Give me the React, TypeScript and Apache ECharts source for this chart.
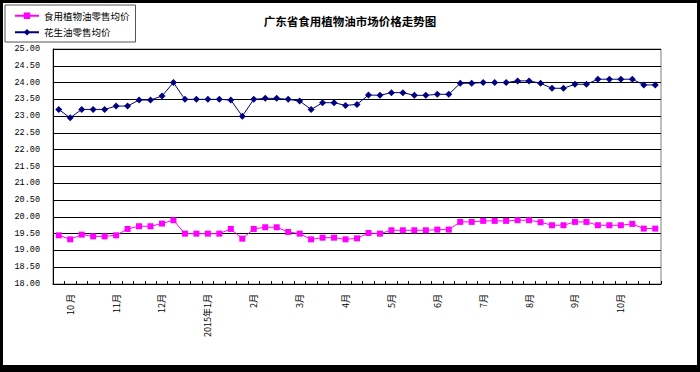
import React, { useEffect, useRef } from "react";
import * as echarts from "echarts";

const titleText = "广东省食用植物油市场价格走势图";
const seriesNames = ["食用植物油零售均价", "花生油零售均价"];
const monthLabels = ["10 月", "11月", "12月", "2015年1月", "2月", "3月", "4月", "5月", "6月", "7月", "8月", "9月", "10月"];

const edibleOil = [
  19.45, 19.33, 19.47, 19.42, 19.42, 19.45, 19.64, 19.72, 19.72, 19.8,
  19.9, 19.5, 19.5, 19.5, 19.5, 19.64, 19.35, 19.64, 19.69, 19.69,
  19.55, 19.5, 19.33, 19.38, 19.38, 19.33, 19.36, 19.52, 19.5, 19.6,
  19.6, 19.6, 19.6, 19.62, 19.62, 19.85, 19.85, 19.88, 19.88, 19.88,
  19.9, 19.9, 19.84, 19.75, 19.75, 19.85, 19.85, 19.75, 19.75, 19.75,
  19.79, 19.65, 19.65,
];

const peanutOil = [
  23.2, 22.95, 23.2, 23.2, 23.2, 23.3, 23.3, 23.48, 23.48, 23.6,
  24.0, 23.5, 23.5, 23.5, 23.5, 23.48, 23.0, 23.5, 23.53, 23.53,
  23.5, 23.45, 23.2, 23.4, 23.4, 23.32, 23.35, 23.63, 23.62, 23.7,
  23.7, 23.62, 23.62, 23.65, 23.65, 23.98, 23.98, 24.0, 24.0, 24.0,
  24.05, 24.05, 23.98, 23.83, 23.83, 23.95, 23.95, 24.1, 24.1, 24.1,
  24.1, 23.93, 23.93,
];

const categories = edibleOil.map((_, i) => "P" + (i + 1));

const cjk = "'Noto Sans CJK SC', 'Liberation Sans', sans-serif";

export default function App() {
  const ref = useRef<HTMLDivElement>(null);
  useEffect(() => {
    if (!ref.current) return;
    const chart = echarts.init(ref.current, undefined, { renderer: "svg" });
    chart.setOption({
      animation: false,
      backgroundColor: "#ffffff",
      title: {
        text: titleText,
        left: "center",
        top: 10,
        textStyle: { fontSize: 11.5, fontWeight: "bold", color: "#000", fontFamily: cjk },
      },
      legend: {
        orient: "vertical",
        left: 5,
        top: 5,
        padding: [6, 6, 5, 9],
        itemWidth: 24,
        itemHeight: 8,
        itemGap: 7,
        itemTextGap: 5,
        borderColor: "#555",
        borderWidth: 1,
        textStyle: { fontSize: 9.5, color: "#000", fontFamily: cjk },
        data: seriesNames,
      },
      graphic: [
        { type: "rect", shape: { x: 0, y: 0, width: 700, height: 3 }, style: { fill: "#000" }, z: 100 },
        { type: "rect", shape: { x: 0, y: 0, width: 3, height: 372 }, style: { fill: "#000" }, z: 100 },
        { type: "rect", shape: { x: 697, y: 0, width: 3, height: 372 }, style: { fill: "#000" }, z: 100 },
        { type: "rect", shape: { x: 0, y: 365, width: 700, height: 7 }, style: { fill: "#000" }, z: 100 },
      ],
      grid: {
        left: 53,
        right: 39,
        top: 49,
        bottom: 88,
        show: true,
        borderColor: "#808080",
        borderWidth: 1,
      },
      xAxis: {
        type: "category",
        data: categories,
        boundaryGap: true,
        axisLine: { show: true, lineStyle: { color: "#000", width: 1 } },
        axisTick: { show: true, interval: 0, length: 3, inside: true, lineStyle: { color: "#000" } },
        axisLabel: {
          interval: 0,
          rotate: 90,
          margin: 10,
          fontSize: 9,
          color: "#000",
          fontFamily: cjk,
          formatter: (_v: string, idx: number) => (idx % 4 === 1 ? monthLabels[(idx - 1) / 4] ?? "" : ""),
        },
        splitLine: { show: false },
      },
      yAxis: {
        type: "value",
        min: 18,
        max: 25,
        interval: 0.5,
        axisLine: { show: true, lineStyle: { color: "#000", width: 1 } },
        axisTick: { show: false },
        axisLabel: {
          margin: 13,
          fontSize: 8.5,
          color: "#000",
          fontFamily: "'Liberation Mono', 'DejaVu Sans Mono', monospace",
          formatter: (v: number) => v.toFixed(2),
        },
        splitLine: { show: true, lineStyle: { color: "#000", width: 1 } },
      },
      series: [
        {
          name: seriesNames[0],
          type: "line",
          data: edibleOil,
          symbol: "rect",
          symbolSize: 6,
          itemStyle: { color: "#FF00FF" },
          lineStyle: { color: "#FF00FF", width: 1 },
        },
        {
          name: seriesNames[1],
          type: "line",
          data: peanutOil,
          symbol: "diamond",
          symbolSize: 7,
          itemStyle: { color: "#000080" },
          lineStyle: { color: "#000080", width: 1 },
        },
      ],
    });
    return () => chart.dispose();
  }, []);
  return (
    <div
      ref={ref}
      style={{ position: "fixed", left: 0, top: 0, width: 700, height: 372 }}
    />
  );
}
